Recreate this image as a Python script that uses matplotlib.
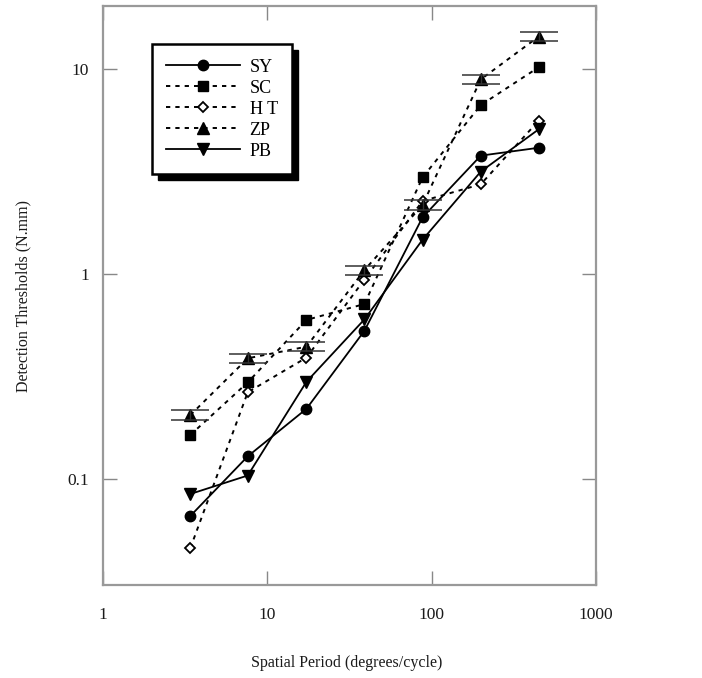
import numpy as np
import matplotlib
matplotlib.use('Agg')
import matplotlib.pyplot as plt
from matplotlib.patches import Rectangle

plt.rcParams['font.family'] = ['Liberation Serif', 'DejaVu Serif']

# spatial period (degrees/cycle)
period = [3.4, 7.6, 17.3, 39, 88, 199, 448]

sy = [0.066, 0.129, 0.22, 0.529, 1.89, 3.78, 4.13]
sc = [0.164, 0.296, 0.597, 0.714, 2.96, 6.67, 10.2]
ht = [0.046, 0.265, 0.391, 0.94, 2.27, 2.74, 5.6]
zp = [0.205, 0.388, 0.442, 1.046, 2.17, 8.9, 14.4]
pb = [0.0845, 0.104, 0.298, 0.601, 1.47, 3.16, 5.08]

# error range for ZP
zp_lo = [0.195, 0.368, 0.42, 0.993, 2.06, 8.45, 13.7]
zp_hi = [0.216, 0.409, 0.466, 1.10, 2.29, 9.38, 15.2]

xticks = [1, 10, 100, 1000]
yticks = [0.1, 1, 10]

fig = plt.figure(figsize=(7.02, 6.78), dpi=100)
ax = fig.add_axes([103/702, 1-585/678, 493/702, 579/678])

dot = (0, (2.2, 2.6))
ax.plot(period, sy, color='k', lw=1.3, ls='-', marker='o', ms=7.5, label='SY', zorder=3)
ax.plot(period, sc, color='k', lw=1.4, ls=dot, marker='s', ms=7.5, label='SC', zorder=3)
ax.plot(period, ht, color='k', lw=1.4, ls=dot, marker='D', ms=5.5, mfc='white',
        mew=1.3, label='H T', zorder=3)
ax.plot(period, zp, color='k', lw=1.4, ls=dot, marker='^', ms=8.5, label='ZP', zorder=3)
ax.plot(period, pb, color='k', lw=1.3, ls='-', marker='v', ms=8.5, label='PB', zorder=3)

zp_arr = np.array(zp)
yerr = [zp_arr - np.array(zp_lo), np.array(zp_hi) - zp_arr]
ax.errorbar(period, zp, yerr=yerr, fmt='none', ecolor='#333333', elinewidth=1,
            capsize=13.7, capthick=1.1, zorder=4)

ax.set_xscale('log')
ax.set_yscale('log')
ax.set_xlim(1, 1000)
ax.set_ylim(0.0304, 20.3)
ax.set_xticks(xticks)
ax.set_xticklabels(['1', '10', '100', '1000'])
ax.set_yticks(yticks)
ax.set_yticklabels(['0.1', '1', '10'])
ax.minorticks_off()
ax.tick_params(axis='both', which='major', direction='in', length=10, width=1,
               color='#888888', top=True, right=True, labelsize=12.5, labelcolor='#1a1a1a')
ax.tick_params(axis='x', pad=16)
ax.tick_params(axis='y', pad=10)
for s in ax.spines.values():
    s.set_color('#999999')
    s.set_linewidth(1.6)

ax.set_xlabel('Spatial Period (degrees/cycle)', fontsize=11.5, color='#1a1a1a')
ax.set_ylabel('Detection Thresholds (N.mm)', fontsize=11.5, color='#1a1a1a')
ax.xaxis.set_label_coords(0.495, -0.121)
ax.yaxis.set_label_coords(-0.146, 0.5)

leg = ax.legend(loc='upper left', bbox_to_anchor=(0.0994, 0.934), borderaxespad=0,
                fancybox=False, edgecolor='k', framealpha=1, fontsize=13,
                handlelength=4.1, handletextpad=0.5, labelspacing=0.22,
                borderpad=0.8, numpoints=1)
leg.get_frame().set_linewidth(1.8)
leg.set_zorder(6)

fig.canvas.draw()
bb = leg.get_window_extent().transformed(fig.transFigure.inverted())
shadow = Rectangle((bb.x0 + 6/702, bb.y0 - 6/678), bb.width, bb.height,
                   transform=fig.transFigure, facecolor='k', edgecolor='k',
                   clip_on=False, zorder=5.5)
ax.add_patch(shadow)

fig.savefig('out.png', dpi=100)
